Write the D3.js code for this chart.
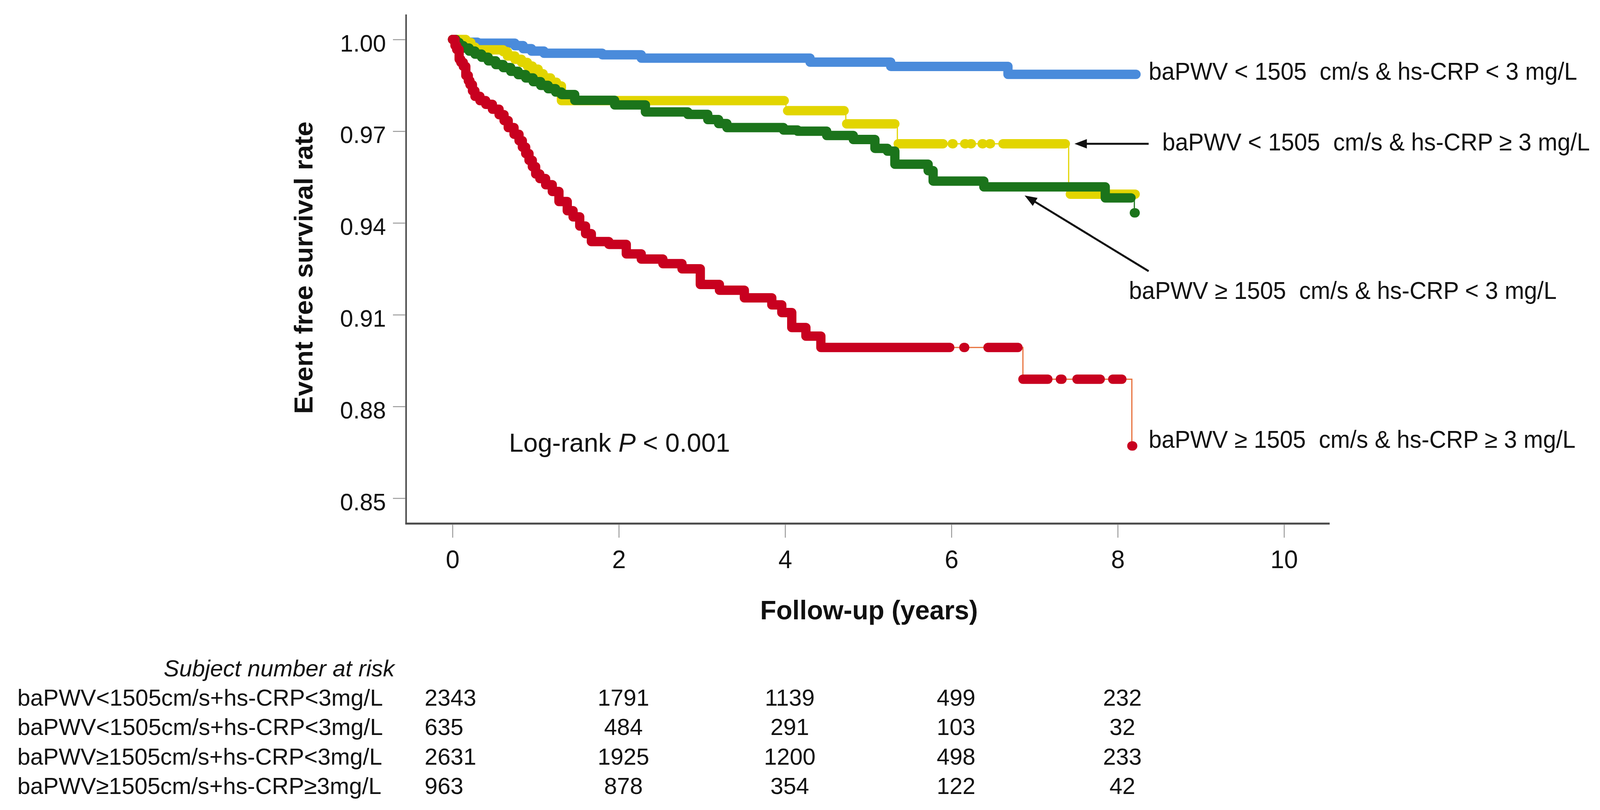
<!DOCTYPE html>
<html>
<head>
<meta charset="utf-8">
<script src="https://cdn.jsdelivr.net/npm/d3@7/dist/d3.min.js"></script>
<style>
  html, body { margin: 0; padding: 0; background: #fff; overflow: hidden; }
  svg { display: block; }
  svg text { font-family: "Liberation Sans", Arial, sans-serif; fill: #111; white-space: pre; }
</style>
</head>
<body>
<svg id="chart"></svg>
<script>
// survival steps [years, survival]
const blueSteps = [[0, 1.0], [0.1, 0.9995], [0.15, 0.9991], [0.3, 0.9988], [0.75, 0.998], [0.85, 0.997],
  [0.95, 0.9962], [1.1, 0.9955], [1.8, 0.995], [2.27, 0.9939], [4.3, 0.9926], [5.27, 0.9912], [6.68, 0.9886]];
const yellowSteps = [[0, 1.0], [0.16, 0.999], [0.22, 0.9975], [0.27, 0.9966], [0.61, 0.996], [0.66, 0.9946],
  [0.75, 0.9935], [0.83, 0.9925], [0.9, 0.9913], [0.96, 0.9903], [1.03, 0.9888], [1.09, 0.9874],
  [1.18, 0.986], [1.25, 0.9848], [1.31, 0.98], [4.01, 0.9767], [4.73, 0.9724], [5.35, 0.9659], [7.41, 0.9494]];
const greenSteps = [[0, 1.0], [0.04, 0.999], [0.08, 0.998], [0.13, 0.9972], [0.2, 0.9962], [0.27, 0.9952],
  [0.35, 0.9942], [0.43, 0.993], [0.52, 0.9918], [0.61, 0.9908], [0.7, 0.9896], [0.79, 0.9885],
  [0.88, 0.9874], [0.97, 0.9862], [1.06, 0.985], [1.15, 0.9839], [1.24, 0.9828], [1.31, 0.982],
  [1.47, 0.9801], [1.95, 0.9786], [2.32, 0.9763], [2.83, 0.9755], [3.07, 0.9738], [3.2, 0.9725],
  [3.3, 0.9712], [3.98, 0.9704], [4.15, 0.97], [4.5, 0.9686], [4.82, 0.9673], [5.08, 0.9644],
  [5.23, 0.9635], [5.32, 0.9592], [5.72, 0.9571], [5.78, 0.9537], [6.39, 0.9518], [7.85, 0.9482], [8.2, 0.9433]];
const redSteps = [[0, 1.0], [0.03, 0.998], [0.05, 0.9967], [0.08, 0.9935], [0.1, 0.9925], [0.13, 0.9912],
  [0.16, 0.9882], [0.19, 0.9865], [0.21, 0.9852], [0.24, 0.9832], [0.27, 0.9814], [0.33, 0.98],
  [0.4, 0.9788], [0.48, 0.9772], [0.56, 0.9754], [0.62, 0.9735], [0.67, 0.9712], [0.74, 0.969],
  [0.8, 0.9669], [0.84, 0.9648], [0.88, 0.9627], [0.92, 0.9605], [0.96, 0.9584], [1.0, 0.956],
  [1.05, 0.9545], [1.12, 0.9525], [1.2, 0.9503], [1.28, 0.947], [1.38, 0.944], [1.45, 0.942],
  [1.53, 0.939], [1.6, 0.9365], [1.67, 0.9339], [1.88, 0.933], [2.09, 0.9299], [2.27, 0.9282],
  [2.53, 0.9267], [2.76, 0.925], [2.98, 0.9199], [3.21, 0.918], [3.51, 0.9155], [3.84, 0.9132],
  [3.96, 0.9107], [4.08, 0.9058], [4.25, 0.903], [4.43, 0.8993], [6.86, 0.8889], [8.17, 0.8671]];

// last follow-up time of each group
const blueEnd = 8.22, yellowEnd = 8.21, greenEnd = 8.2, redEnd = 8.17;

// stretches covered by censoring marks [from, to]
const blueBands = [[0, 8.22]];
const yellowBands = [[0, 3.99], [4.03, 4.71], [4.74, 5.32], [5.36, 5.9], [6.01, 6.02], [6.16, 6.17],
  [6.23, 6.24], [6.37, 6.38], [6.46, 6.47], [6.62, 7.37], [7.43, 8.21]];
const greenBands = [[0, 8.16], [8.2, 8.21]];
const redBands = [[0, 5.98], [6.15, 6.16], [6.44, 6.8], [6.86, 7.16], [7.31, 7.33], [7.51, 7.79],
  [7.94, 8.05], [8.17, 8.18]];

const seriesLabels = [
  "baPWV < 1505  cm/s & hs-CRP < 3 mg/L",
  "baPWV < 1505  cm/s & hs-CRP \u2265 3 mg/L",
  "baPWV \u2265 1505  cm/s & hs-CRP < 3 mg/L",
  "baPWV \u2265 1505  cm/s & hs-CRP \u2265 3 mg/L"
];

const xTicks = [0, 2, 4, 6, 8, 10];
const yTicks = [0.85, 0.88, 0.91, 0.94, 0.97, 1.0];

const riskTimes = [0, 2, 4, 6, 8];
const riskLabels = [
  "baPWV<1505cm/s+hs-CRP<3mg/L",
  "baPWV<1505cm/s+hs-CRP<3mg/L",
  "baPWV\u22651505cm/s+hs-CRP<3mg/L",
  "baPWV\u22651505cm/s+hs-CRP\u22653mg/L"
];
const riskBlue = [2343, 1791, 1139, 499, 232];
const riskYellow = [635, 484, 291, 103, 32];
const riskGreen = [2631, 1925, 1200, 498, 233];
const riskRed = [963, 878, 354, 122, 42];

const width = 4137, height = 2073;
// draw in reference pixels, stretch to whatever the window really is
const svg = d3.select("#chart").attr("width", window.innerWidth).attr("height", window.innerHeight)
  .attr("viewBox", `0 0 ${width} ${height}`).attr("preserveAspectRatio", "none");

const x = d3.scaleLinear().domain([0, 10]).range([1170, 3320]);
const y = d3.scaleLinear().domain([0.85, 1.0]).range([1275, 101]);

const axisLeft = 1050, axisBottom = 1340;

// axes
svg.append("line").attr("x1", axisLeft).attr("x2", axisLeft).attr("y1", 37).attr("y2", axisBottom + 2)
  .attr("stroke", "#4a4a4a").attr("stroke-width", 4);
svg.append("line").attr("x1", axisLeft - 2).attr("x2", 3438).attr("y1", axisBottom).attr("y2", axisBottom)
  .attr("stroke", "#4a4a4a").attr("stroke-width", 5);

const yAxis = svg.append("g").attr("transform", `translate(${axisLeft - 2},0)`)
  .call(d3.axisLeft(y).tickValues(yTicks).tickFormat(d3.format(".2f")).tickSize(32).tickPadding(18));
yAxis.select(".domain").remove();
yAxis.selectAll(".tick line").attr("stroke", "#9a9a9a").attr("stroke-width", 2.5);
yAxis.selectAll(".tick text").attr("font-size", 61).attr("dy", 30).attr("fill", "#111");

const xAxis = svg.append("g").attr("transform", `translate(0,${axisBottom + 2})`)
  .call(d3.axisBottom(x).tickValues(xTicks).tickSize(34).tickPadding(30));
xAxis.select(".domain").remove();
xAxis.selectAll(".tick line").attr("stroke", "#9a9a9a").attr("stroke-width", 2.5);
xAxis.selectAll(".tick text").attr("font-size", 64).attr("dy", 48).attr("fill", "#111");

svg.append("text").attr("transform", "translate(808,685) rotate(-90)")
  .attr("text-anchor", "middle").attr("font-size", 68).attr("font-weight", "bold")
  .text("Event free survival rate");
svg.append("text").attr("x", 2247).attr("y", 1585)
  .attr("text-anchor", "middle").attr("font-size", 68).attr("font-weight", "bold")
  .text("Follow-up (years)");

// curves
function valueAt(steps, t, strict) {
  let v = steps[0][1];
  for (const [ti, vi] of steps) if (strict ? ti < t : ti <= t) v = vi;
  return v;
}
function piece(steps, a, b) {
  const pts = [[a, valueAt(steps, a, false)]];
  for (const [ti, vi] of steps) {
    if (ti > a && ti < b) { pts.push([ti, pts[pts.length - 1][1]]); pts.push([ti, vi]); }
  }
  pts.push([b, valueAt(steps, b, true)]);
  return pts;
}
const line = d3.line().x(d => x(d[0])).y(d => y(d[1]));

const series = [
  { steps: blueSteps, end: blueEnd, bands: blueBands, color: "#4a8bdb", thin: "#4a8bdb" },
  { steps: yellowSteps, end: yellowEnd, bands: yellowBands, color: "#e2d500", thin: "#e2d500" },
  { steps: greenSteps, end: greenEnd, bands: greenBands, color: "#1b741b", thin: "#1b741b" },
  { steps: redSteps, end: redEnd, bands: redBands, color: "#c8001f", thin: "#e8703a" }
];

series.forEach(s => {
  const g = svg.append("g");
  g.append("path").attr("d", line(piece(s.steps, 0, s.end + 1e-6)))
    .attr("fill", "none").attr("stroke", s.thin).attr("stroke-width", 3);
  g.selectAll("path.band").data(s.bands).enter().append("path").attr("class", "band")
    .attr("d", d => line(piece(s.steps, d[0], d[1])))
    .attr("fill", "none").attr("stroke", s.color).attr("stroke-width", 24)
    .attr("stroke-linecap", "round").attr("stroke-linejoin", "round");
});

// labels and arrows
const labelPos = [[2970, 204], [3005, 385], [2919, 765], [2970, 1146]];
svg.selectAll("text.series").data(seriesLabels).enter().append("text").attr("class", "series")
  .attr("transform", (d, i) => `translate(${labelPos[i][0]},${labelPos[i][1]}) scale(0.96,1)`)
  .attr("font-size", 63).text(d => d);

const arrows = [
  { from: [2970, 368], tip: [7.48, 0.9659] },
  { from: [2970, 694], tip: [6.88, 0.949] }
];
arrows.forEach(a => {
  const tx = x(a.tip[0]), ty = y(a.tip[1]);
  const dx = a.from[0] - tx, dy = a.from[1] - ty, len = Math.hypot(dx, dy);
  const ux = dx / len, uy = dy / len, L = 32, W = 12;
  svg.append("line").attr("x1", a.from[0]).attr("y1", a.from[1])
    .attr("x2", tx + ux * L * 0.8).attr("y2", ty + uy * L * 0.8)
    .attr("stroke", "#111").attr("stroke-width", 5);
  const bx = tx + ux * L, by = ty + uy * L;
  svg.append("path")
    .attr("d", `M${tx},${ty}L${bx - uy * W},${by + ux * W}L${bx + uy * W},${by - ux * W}Z`)
    .attr("fill", "#111");
});

const logrank = svg.append("text").attr("x", 1316).attr("y", 1156).attr("font-size", 67);
logrank.append("tspan").text("Log-rank ");
logrank.append("tspan").attr("font-style", "italic").text("P");
logrank.append("tspan").text(" < 0.001");

// numbers at risk
svg.append("text").attr("x", 1020).attr("y", 1731).attr("text-anchor", "end")
  .attr("font-size", 60).attr("font-style", "italic").text("Subject number at risk");

const riskRows = [riskBlue, riskYellow, riskGreen, riskRed];
const rowY = d3.scalePoint().domain(d3.range(4)).range([1806, 2032]);
riskRows.forEach((row, i) => {
  svg.append("text").attr("x", 45).attr("y", rowY(i)).attr("font-size", 60).text(riskLabels[i]);
  svg.selectAll(null).data(row).enter().append("text")
    .attr("x", (d, j) => riskTimes[j] === 0 ? x(0) - 72 : x(riskTimes[j]) + 12)
    .attr("y", rowY(i))
    .attr("text-anchor", (d, j) => riskTimes[j] === 0 ? "start" : "middle")
    .attr("font-size", 60).text(d => d);
});
</script>
</body>
</html>
